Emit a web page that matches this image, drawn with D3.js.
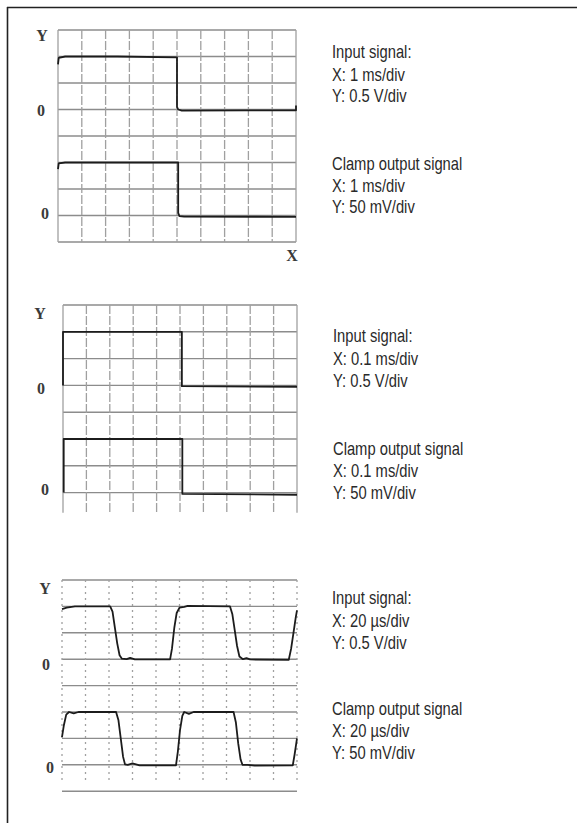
<!DOCTYPE html>
<html><head><meta charset="utf-8">
<script src="https://cdn.jsdelivr.net/npm/d3@7"></script>
<style>body{margin:0;background:#fff}</style>
</head><body><svg id="c" width="577" height="823"></svg>
<script>
// ---- data (x, y in screen divisions; y measured upward from bottom line) ----
const xTicks = d3.range(0, 11);           // 10 horizontal divisions
const yTicks = d3.range(0, 9);            // 8 vertical divisions

const captions1 = ["Input signal:", "X: 1 ms/div", "Y: 0.5 V/div", "Clamp output signal", "X: 1 ms/div", "Y: 50 mV/div"];
const captions2 = ["Input signal:", "X: 0.1 ms/div", "Y: 0.5 V/div", "Clamp output signal", "X: 0.1 ms/div", "Y: 50 mV/div"];
const captions3 = ["Input signal:", "X: 20 µs/div", "Y: 0.5 V/div", "Clamp output signal", "X: 20 µs/div", "Y: 50 mV/div"];

const input1 = [[0,6.7],[0.03,6.95],[0.3,7.0],[2.5,7.0],[5.0,6.97],[5.0,5.1],[5.05,5.0],[5.2,4.96],[8,4.97],[10,4.97],[10,5.15]];
const clamp1 = [[0,2.75],[0.03,2.97],[0.3,3.0],[5.05,3.0],[5.05,1.1],[5.1,0.98],[5.3,0.96],[10,0.95]];

const input2 = [[0,5.0],[0,7.0],[5.08,7.0],[5.08,4.97],[10,4.95]];
const clamp2 = [[0.03,1.0],[0.03,3.0],[2.5,3.0],[5.1,3.0],[5.1,0.95],[10,0.92]];

const input3 = [[0,6.9],[0.2,6.95],[0.55,7.0],[2.05,7.0],[2.15,6.8],[2.25,6.2],[2.35,5.6],[2.45,5.15],[2.55,5.02],[2.75,5.0],[2.9,5.05],[3.1,4.99],[4.6,4.99],
  [4.68,5.4],[4.78,6.2],[4.88,6.75],[5.0,6.95],[5.2,6.98],[5.35,7.02],[7.15,7.0],[7.25,6.7],[7.35,6.1],[7.45,5.5],[7.55,5.1],[7.7,5.0],[7.85,5.04],[8.0,4.99],[9.65,4.98],
  [9.75,5.4],[9.85,6.0],[9.95,6.6],[10,6.85]];
const clamp3 = [[0,2.05],[0.08,2.5],[0.18,2.9],[0.3,3.0],[0.5,2.95],[0.7,3.0],[2.3,3.0],[2.4,2.7],[2.5,2.0],[2.6,1.3],[2.68,1.02],[2.8,1.0],[3.0,1.05],[3.3,0.98],[4.85,0.98],
  [4.93,1.5],[5.02,2.3],[5.12,2.85],[5.2,3.0],[5.4,2.93],[5.6,3.0],[7.3,3.0],[7.4,2.6],[7.5,1.8],[7.6,1.2],[7.68,1.0],[7.9,1.0],[8.2,0.97],[9.82,0.98],[9.9,1.4],[10,2.0]];

const axisLetters = ["Y", "0", "0", "X"];

// ---- layout ----
const panels = [
  {x0:58, x1:296, top:30, dy:26.5, hLines:[0,8], vExt:[0,8], vDash:"9,2",
   traces:[input1, clamp1], caps:captions1, capX:332, capY:[58,81,102,170,191.5,213],
   letters:[[42,41],[41,116],[45,219],[292,261]]},
  {x0:63, x1:297, top:305, dy:26.8, hLines:[1,8], vExt:[0.25,8], vDash:"9,2",
   traces:[input2, clamp2], caps:captions2, capX:333, capY:[341.5,364.5,386.5,455,476.5,498.5],
   letters:[[40,319],[41,394],[45,495]]},
  {x0:62, x1:297, top:580, dy:26.4, hLines:[0,8], vExt:[0.4,8], vDash:"2,4",
   traces:[input3, clamp3], caps:captions3, capX:332, capY:[604,626.5,648.5,715,737,759],
   letters:[[45,594],[46,670],[50,773]]}
];

const svg = d3.select("#c");

// outer frame (left and top edges)
svg.append("line").attr("x1",7).attr("y1",7.5).attr("x2",577).attr("y2",7.5).attr("stroke","#222").attr("stroke-width",1.6);
svg.append("line").attr("x1",7.5).attr("y1",7).attr("x2",7.5).attr("y2",823).attr("stroke","#222").attr("stroke-width",1.6);

const capScale = 0.82;

panels.forEach(p => {
  const x = d3.scaleLinear().domain([0,10]).range([p.x0, p.x1]);
  const y = d3.scaleLinear().domain([0,8]).range([p.top + 8*p.dy, p.top]);
  const g = svg.append("g");

  // horizontal grid
  g.selectAll(".h").data(yTicks.filter(t => t >= p.hLines[0] && t <= p.hLines[1])).join("line")
    .attr("x1", x(0)).attr("x2", x(10)).attr("y1", d => y(d)).attr("y2", d => y(d))
    .attr("stroke", "#8c8c8c").attr("stroke-width", 1.4);

  // vertical grid
  g.selectAll(".v").data(xTicks).join("line")
    .attr("x1", d => x(d)).attr("x2", d => x(d))
    .attr("y1", y(p.vExt[1])).attr("y2", y(p.vExt[0]))
    .attr("stroke", "#a0a0a0").attr("stroke-width", 1.3)
    .attr("stroke-dasharray", d => (d === 0 || d === 10) && p.vDash === "9,2" ? null : p.vDash);

  // traces
  const line = d3.line().x(d => x(d[0])).y(d => y(d[1]));
  p.traces.forEach(t => {
    g.append("path").attr("d", line(t)).attr("fill","none")
      .attr("stroke","#1c1c1c").attr("stroke-width",1.8).attr("stroke-linejoin","round");
  });

  // axis letters
  p.letters.forEach((pos, i) => {
    g.append("text").attr("x", pos[0]).attr("y", pos[1]).attr("text-anchor","middle")
      .attr("font-family","'Liberation Serif','DejaVu Serif',serif").attr("font-weight","bold")
      .attr("font-size", 16).attr("fill","#3a3a3a").text(axisLetters[i]);
  });

  // captions (condensed sans: regular face compressed horizontally)
  p.caps.forEach((c, i) => {
    g.append("text")
      .attr("transform", `translate(${p.capX},${p.capY[i]}) scale(${capScale},1)`)
      .attr("font-family","'Liberation Sans',Arial,sans-serif")
      .attr("font-size", 18).attr("fill","#2a2a2a").text(c);
  });
});
</script>
</body></html>
